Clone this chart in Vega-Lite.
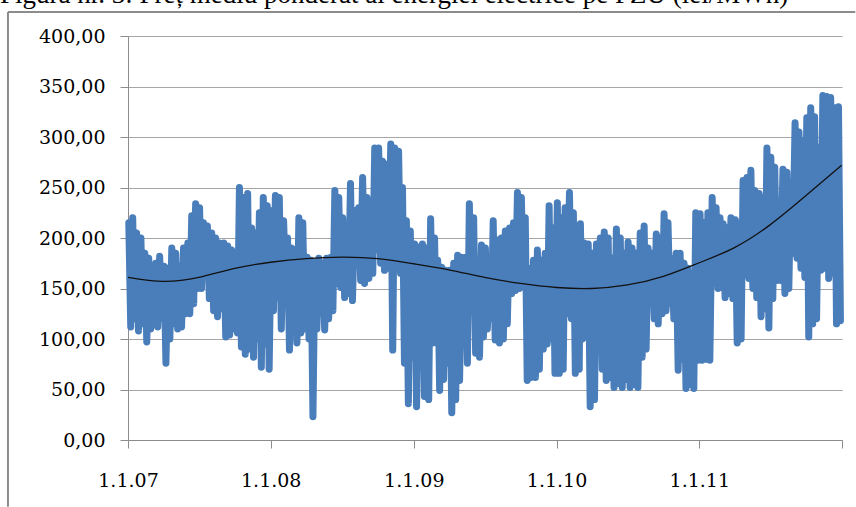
{
  "$schema": "https://vega.github.io/schema/vega-lite/v6.json",
  "width": 714,
  "height": 404,
  "autosize": {"type": "none"},
  "padding": {"left": 128, "top": 36, "right": 14, "bottom": 67},
  "background": "white",
  "title": {
    "text": "Figura nr. 3: Preț mediu ponderat al energiei electrice pe PZU (lei/MWh)",
    "anchor": "start",
    "frame": "group",
    "font": "Liberation Serif",
    "fontSize": 27,
    "fontWeight": "normal",
    "color": "black",
    "baseline": "alphabetic",
    "offset": 3,
    "dy": 22,
    "dx": -128
  },
  "config": {
    "view": {"stroke": null},
    "axis": {
      "labelFont": "DejaVu Serif",
      "labelFontSize": 19,
      "labelColor": "black",
      "domainColor": "#8c8c8c",
      "tickColor": "#8c8c8c",
      "gridColor": "#a6a6a6",
      "domainWidth": 1,
      "tickWidth": 1,
      "gridWidth": 1,
      "tickSize": 8,
      "title": null
    }
  },
  "datasets": {
    "trend": [
      {"d": "2007-01-01", "v": 161}, {"d": "2007-04-01", "v": 157}, {"d": "2007-07-01", "v": 161},
      {"d": "2007-10-01", "v": 170}, {"d": "2008-01-01", "v": 176}, {"d": "2008-04-01", "v": 179.5},
      {"d": "2008-07-01", "v": 181}, {"d": "2008-10-01", "v": 179.5}, {"d": "2009-01-01", "v": 174.5},
      {"d": "2009-04-01", "v": 168.5}, {"d": "2009-07-01", "v": 161}, {"d": "2009-10-01", "v": 155},
      {"d": "2010-01-01", "v": 151}, {"d": "2010-04-01", "v": 150}, {"d": "2010-07-01", "v": 153.5},
      {"d": "2010-10-01", "v": 162}, {"d": "2011-01-01", "v": 175.5}, {"d": "2011-04-01", "v": 190.5},
      {"d": "2011-07-01", "v": 213}, {"d": "2011-10-01", "v": 242}, {"d": "2011-12-31", "v": 272}
    ],
    "price": [
      {"d":"2007-01-03","v":215},{"d":"2007-01-08","v":112},{"d":"2007-01-13","v":220},{"d":"2007-01-18","v":120},{"d":"2007-01-23","v":205},{"d":"2007-01-28","v":108},
      {"d":"2007-02-03","v":200},{"d":"2007-02-08","v":115},{"d":"2007-02-13","v":185},{"d":"2007-02-18","v":97},{"d":"2007-02-23","v":180},{"d":"2007-02-28","v":110},
      {"d":"2007-03-03","v":170},{"d":"2007-03-08","v":125},{"d":"2007-03-13","v":175},{"d":"2007-03-18","v":112},{"d":"2007-03-23","v":182},{"d":"2007-03-28","v":120},
      {"d":"2007-04-03","v":172},{"d":"2007-04-08","v":76},{"d":"2007-04-13","v":170},{"d":"2007-04-18","v":100},{"d":"2007-04-23","v":190},{"d":"2007-04-28","v":115},
      {"d":"2007-05-03","v":185},{"d":"2007-05-08","v":110},{"d":"2007-05-13","v":172},{"d":"2007-05-18","v":112},{"d":"2007-05-23","v":190},{"d":"2007-05-28","v":125},
      {"d":"2007-06-03","v":195},{"d":"2007-06-08","v":125},{"d":"2007-06-13","v":222},{"d":"2007-06-18","v":135},{"d":"2007-06-23","v":234},{"d":"2007-06-28","v":150},
      {"d":"2007-07-03","v":230},{"d":"2007-07-08","v":150},{"d":"2007-07-13","v":215},{"d":"2007-07-18","v":165},{"d":"2007-07-23","v":212},{"d":"2007-07-28","v":140},
      {"d":"2007-08-03","v":205},{"d":"2007-08-08","v":128},{"d":"2007-08-13","v":200},{"d":"2007-08-18","v":122},{"d":"2007-08-23","v":195},{"d":"2007-08-28","v":130},
      {"d":"2007-09-03","v":195},{"d":"2007-09-08","v":102},{"d":"2007-09-13","v":192},{"d":"2007-09-18","v":104},{"d":"2007-09-23","v":188},{"d":"2007-09-28","v":110},
      {"d":"2007-10-03","v":180},{"d":"2007-10-08","v":106},{"d":"2007-10-13","v":250},{"d":"2007-10-18","v":92},{"d":"2007-10-23","v":240},{"d":"2007-10-28","v":85},
      {"d":"2007-11-03","v":244},{"d":"2007-11-08","v":90},{"d":"2007-11-13","v":210},{"d":"2007-11-18","v":82},{"d":"2007-11-23","v":205},{"d":"2007-11-28","v":100},
      {"d":"2007-12-03","v":225},{"d":"2007-12-08","v":72},{"d":"2007-12-13","v":240},{"d":"2007-12-18","v":95},{"d":"2007-12-23","v":232},{"d":"2007-12-28","v":70},
      {"d":"2008-01-03","v":227},{"d":"2008-01-08","v":128},{"d":"2008-01-13","v":242},{"d":"2008-01-18","v":141},{"d":"2008-01-23","v":240},{"d":"2008-01-28","v":110},
      {"d":"2008-02-03","v":217},{"d":"2008-02-08","v":155},{"d":"2008-02-13","v":200},{"d":"2008-02-18","v":89},{"d":"2008-02-23","v":190},{"d":"2008-02-28","v":120},
      {"d":"2008-03-03","v":188},{"d":"2008-03-08","v":96},{"d":"2008-03-13","v":220},{"d":"2008-03-18","v":106},{"d":"2008-03-23","v":215},{"d":"2008-03-28","v":110},
      {"d":"2008-04-03","v":181},{"d":"2008-04-08","v":100},{"d":"2008-04-13","v":178},{"d":"2008-04-18","v":23},{"d":"2008-04-23","v":176},{"d":"2008-04-28","v":110},
      {"d":"2008-05-03","v":180},{"d":"2008-05-08","v":128},{"d":"2008-05-13","v":175},{"d":"2008-05-18","v":109},{"d":"2008-05-23","v":180},{"d":"2008-05-28","v":120},
      {"d":"2008-06-03","v":181},{"d":"2008-06-08","v":128},{"d":"2008-06-13","v":247},{"d":"2008-06-18","v":155},{"d":"2008-06-23","v":240},{"d":"2008-06-28","v":151},
      {"d":"2008-07-03","v":220},{"d":"2008-07-08","v":141},{"d":"2008-07-13","v":190},{"d":"2008-07-18","v":145},{"d":"2008-07-23","v":254},{"d":"2008-07-28","v":138},
      {"d":"2008-08-03","v":227},{"d":"2008-08-08","v":175},{"d":"2008-08-13","v":230},{"d":"2008-08-18","v":158},{"d":"2008-08-23","v":260},{"d":"2008-08-28","v":155},
      {"d":"2008-09-03","v":240},{"d":"2008-09-08","v":160},{"d":"2008-09-13","v":210},{"d":"2008-09-18","v":165},{"d":"2008-09-23","v":289},{"d":"2008-09-28","v":188},
      {"d":"2008-10-03","v":289},{"d":"2008-10-08","v":175},{"d":"2008-10-13","v":276},{"d":"2008-10-18","v":168},{"d":"2008-10-23","v":273},{"d":"2008-10-28","v":170},
      {"d":"2008-11-03","v":293},{"d":"2008-11-08","v":89},{"d":"2008-11-13","v":289},{"d":"2008-11-18","v":180},{"d":"2008-11-23","v":286},{"d":"2008-11-28","v":165},
      {"d":"2008-12-03","v":250},{"d":"2008-12-08","v":76},{"d":"2008-12-13","v":217},{"d":"2008-12-18","v":36},{"d":"2008-12-23","v":207},{"d":"2008-12-28","v":82},
      {"d":"2009-01-03","v":194},{"d":"2009-01-08","v":33},{"d":"2009-01-13","v":191},{"d":"2009-01-18","v":89},{"d":"2009-01-23","v":194},{"d":"2009-01-28","v":43},
      {"d":"2009-02-03","v":190},{"d":"2009-02-08","v":40},{"d":"2009-02-13","v":219},{"d":"2009-02-18","v":96},{"d":"2009-02-23","v":200},{"d":"2009-02-28","v":96},
      {"d":"2009-03-03","v":178},{"d":"2009-03-08","v":49},{"d":"2009-03-13","v":171},{"d":"2009-03-18","v":60},{"d":"2009-03-23","v":168},{"d":"2009-03-28","v":76},
      {"d":"2009-04-03","v":168},{"d":"2009-04-08","v":27},{"d":"2009-04-13","v":175},{"d":"2009-04-18","v":40},{"d":"2009-04-23","v":183},{"d":"2009-04-28","v":59},
      {"d":"2009-05-03","v":181},{"d":"2009-05-08","v":102},{"d":"2009-05-13","v":181},{"d":"2009-05-18","v":76},{"d":"2009-05-23","v":234},{"d":"2009-05-28","v":128},
      {"d":"2009-06-03","v":220},{"d":"2009-06-08","v":86},{"d":"2009-06-13","v":161},{"d":"2009-06-18","v":82},{"d":"2009-06-23","v":193},{"d":"2009-06-28","v":102},
      {"d":"2009-07-03","v":190},{"d":"2009-07-08","v":110},{"d":"2009-07-13","v":175},{"d":"2009-07-18","v":120},{"d":"2009-07-23","v":217},{"d":"2009-07-28","v":99},
      {"d":"2009-08-03","v":198},{"d":"2009-08-08","v":96},{"d":"2009-08-13","v":200},{"d":"2009-08-18","v":100},{"d":"2009-08-23","v":207},{"d":"2009-08-28","v":115},
      {"d":"2009-09-03","v":210},{"d":"2009-09-08","v":145},{"d":"2009-09-13","v":215},{"d":"2009-09-18","v":148},{"d":"2009-09-23","v":245},{"d":"2009-09-28","v":150},
      {"d":"2009-10-03","v":240},{"d":"2009-10-08","v":155},{"d":"2009-10-13","v":220},{"d":"2009-10-18","v":59},{"d":"2009-10-23","v":170},{"d":"2009-10-28","v":62},
      {"d":"2009-11-03","v":178},{"d":"2009-11-08","v":62},{"d":"2009-11-13","v":188},{"d":"2009-11-18","v":70},{"d":"2009-11-23","v":178},{"d":"2009-11-28","v":90},
      {"d":"2009-12-03","v":185},{"d":"2009-12-08","v":95},{"d":"2009-12-13","v":232},{"d":"2009-12-18","v":100},{"d":"2009-12-23","v":210},{"d":"2009-12-28","v":66},
      {"d":"2010-01-03","v":235},{"d":"2010-01-08","v":66},{"d":"2010-01-13","v":220},{"d":"2010-01-18","v":70},{"d":"2010-01-23","v":230},{"d":"2010-01-28","v":125},
      {"d":"2010-02-03","v":245},{"d":"2010-02-08","v":120},{"d":"2010-02-13","v":225},{"d":"2010-02-18","v":66},{"d":"2010-02-23","v":200},{"d":"2010-02-28","v":70},
      {"d":"2010-03-03","v":214},{"d":"2010-03-08","v":100},{"d":"2010-03-13","v":195},{"d":"2010-03-18","v":102},{"d":"2010-03-23","v":194},{"d":"2010-03-28","v":33},
      {"d":"2010-04-03","v":185},{"d":"2010-04-08","v":40},{"d":"2010-04-13","v":194},{"d":"2010-04-18","v":110},{"d":"2010-04-23","v":200},{"d":"2010-04-28","v":70},
      {"d":"2010-05-03","v":206},{"d":"2010-05-08","v":59},{"d":"2010-05-13","v":200},{"d":"2010-05-18","v":62},{"d":"2010-05-23","v":180},{"d":"2010-05-28","v":52},
      {"d":"2010-06-03","v":209},{"d":"2010-06-08","v":56},{"d":"2010-06-13","v":200},{"d":"2010-06-18","v":52},{"d":"2010-06-23","v":185},{"d":"2010-06-28","v":60},
      {"d":"2010-07-03","v":196},{"d":"2010-07-08","v":52},{"d":"2010-07-13","v":190},{"d":"2010-07-18","v":55},{"d":"2010-07-23","v":185},{"d":"2010-07-28","v":52},
      {"d":"2010-08-03","v":205},{"d":"2010-08-08","v":82},{"d":"2010-08-13","v":212},{"d":"2010-08-18","v":90},{"d":"2010-08-23","v":190},{"d":"2010-08-28","v":135},
      {"d":"2010-09-03","v":185},{"d":"2010-09-08","v":120},{"d":"2010-09-13","v":204},{"d":"2010-09-18","v":115},{"d":"2010-09-23","v":200},{"d":"2010-09-28","v":125},
      {"d":"2010-10-03","v":224},{"d":"2010-10-08","v":128},{"d":"2010-10-13","v":215},{"d":"2010-10-18","v":135},{"d":"2010-10-23","v":180},{"d":"2010-10-28","v":120},
      {"d":"2010-11-03","v":185},{"d":"2010-11-08","v":69},{"d":"2010-11-13","v":185},{"d":"2010-11-18","v":80},{"d":"2010-11-23","v":175},{"d":"2010-11-28","v":51},
      {"d":"2010-12-03","v":170},{"d":"2010-12-08","v":55},{"d":"2010-12-13","v":165},{"d":"2010-12-18","v":51},{"d":"2010-12-23","v":225},{"d":"2010-12-28","v":79},
      {"d":"2011-01-03","v":224},{"d":"2011-01-08","v":79},{"d":"2011-01-13","v":215},{"d":"2011-01-18","v":80},{"d":"2011-01-23","v":225},{"d":"2011-01-28","v":79},
      {"d":"2011-02-03","v":240},{"d":"2011-02-08","v":155},{"d":"2011-02-13","v":230},{"d":"2011-02-18","v":150},{"d":"2011-02-23","v":220},{"d":"2011-02-28","v":151},
      {"d":"2011-03-03","v":214},{"d":"2011-03-08","v":141},{"d":"2011-03-13","v":210},{"d":"2011-03-18","v":145},{"d":"2011-03-23","v":220},{"d":"2011-03-28","v":140},
      {"d":"2011-04-03","v":218},{"d":"2011-04-08","v":96},{"d":"2011-04-13","v":215},{"d":"2011-04-18","v":100},{"d":"2011-04-23","v":257},{"d":"2011-04-28","v":171},
      {"d":"2011-05-03","v":260},{"d":"2011-05-08","v":160},{"d":"2011-05-13","v":267},{"d":"2011-05-18","v":150},{"d":"2011-05-23","v":247},{"d":"2011-05-28","v":141},
      {"d":"2011-06-03","v":244},{"d":"2011-06-08","v":122},{"d":"2011-06-13","v":240},{"d":"2011-06-18","v":130},{"d":"2011-06-23","v":289},{"d":"2011-06-28","v":111},
      {"d":"2011-07-03","v":280},{"d":"2011-07-08","v":140},{"d":"2011-07-13","v":270},{"d":"2011-07-18","v":158},{"d":"2011-07-23","v":230},{"d":"2011-07-28","v":158},
      {"d":"2011-08-03","v":268},{"d":"2011-08-08","v":145},{"d":"2011-08-13","v":265},{"d":"2011-08-18","v":150},{"d":"2011-08-23","v":255},{"d":"2011-08-28","v":185},
      {"d":"2011-09-03","v":314},{"d":"2011-09-08","v":180},{"d":"2011-09-13","v":305},{"d":"2011-09-18","v":170},{"d":"2011-09-23","v":296},{"d":"2011-09-28","v":161},
      {"d":"2011-10-03","v":319},{"d":"2011-10-08","v":102},{"d":"2011-10-13","v":329},{"d":"2011-10-18","v":115},{"d":"2011-10-23","v":320},{"d":"2011-10-28","v":120},
      {"d":"2011-11-03","v":290},{"d":"2011-11-08","v":168},{"d":"2011-11-13","v":341},{"d":"2011-11-18","v":170},{"d":"2011-11-23","v":340},{"d":"2011-11-28","v":160},
      {"d":"2011-12-03","v":339},{"d":"2011-12-08","v":165},{"d":"2011-12-13","v":329},{"d":"2011-12-18","v":115},{"d":"2011-12-23","v":330},{"d":"2011-12-28","v":118}
    ]
  },
  "layer": [
    {
      "data": {"values": [{}]},
      "mark": {"type": "rule", "stroke": "#8c8c8c", "strokeWidth": 2, "clip": false},
      "encoding": {
        "x": {"datum": {"year": 2006, "month": 2, "date": 28}, "type": "temporal"},
        "y": {"datum": 423.8, "type": "quantitative"},
        "y2": {"datum": -66}
      }
    },
    {
      "data": {"values": [{}]},
      "mark": {"type": "rule", "stroke": "#8c8c8c", "strokeWidth": 2, "clip": false},
      "encoding": {
        "x": {"datum": {"year": 2006, "month": 2, "date": 28}, "type": "temporal"},
        "x2": {"datum": {"year": 2012, "month": 2, "date": 4}},
        "y": {"datum": 423.8, "type": "quantitative"}
      }
    },
    {
      "data": {"name": "price"},
      "mark": {"type": "line", "color": "#4A7EBB", "strokeWidth": 7, "strokeJoin": "round", "strokeCap": "round"},
      "encoding": {
        "x": {
          "field": "d",
          "type": "temporal",
          "scale": {"domain": [{"year": 2007, "month": 1, "date": 1}, {"year": 2012, "month": 1, "date": 1}], "nice": false},
          "axis": {
            "values": [
              {"year": 2007, "month": 1, "date": 1},
              {"year": 2008, "month": 1, "date": 1},
              {"year": 2009, "month": 1, "date": 1},
              {"year": 2010, "month": 1, "date": 1},
              {"year": 2011, "month": 1, "date": 1},
              {"year": 2012, "month": 1, "date": 1}
            ],
            "labelExpr": "year(datum.value) >= 2012 ? '' : timeFormat(datum.value, '%-d.%-m.%y')",
            "grid": false,
            "labelPadding": 23,
            "labelFlush": false,
            "labelOverlap": false
          }
        },
        "y": {
          "field": "v",
          "type": "quantitative",
          "scale": {"domain": [0, 400], "nice": false},
          "axis": {
            "values": [0, 50, 100, 150, 200, 250, 300, 350, 400],
            "labelExpr": "replace(format(datum.value, '.2f'), '.', ',')",
            "grid": true,
            "labelPadding": 15
          }
        }
      }
    },
    {
      "data": {"name": "trend"},
      "mark": {"type": "line", "color": "#111111", "strokeWidth": 1.3, "interpolate": "natural"},
      "encoding": {
        "x": {"field": "d", "type": "temporal"},
        "y": {"field": "v", "type": "quantitative"}
      }
    }
  ]
}
